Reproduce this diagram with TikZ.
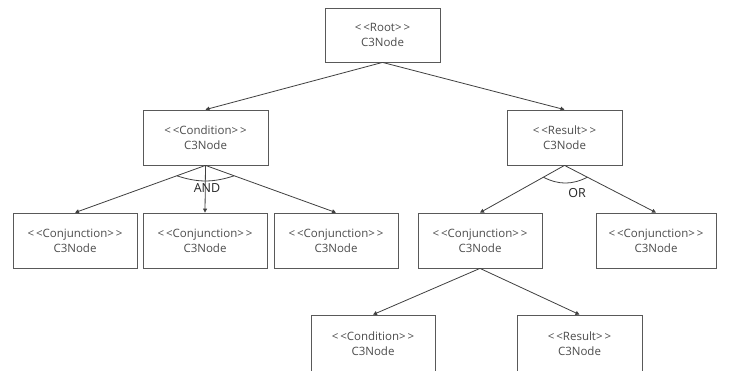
\documentclass[tikz,border=0pt]{standalone}
\usepackage{fontspec}
\setmainfont{Open Sans}
\usepackage{tikz}
\usetikzlibrary{arrows.meta,calc}
\tikzset{
	c3box/.style={draw=black!65, line width=0.8pt, rectangle, minimum height=55pt,
		align=center, font=\fontsize{11.5}{15}\selectfont, text=black!70, inner sep=0pt},
	link/.style={draw=black!75, line width=0.8pt, -{Triangle[length=4pt,width=4pt]}},
	opword/.style={font=\fontsize{12.5}{14}\selectfont, text=black!85, inner sep=0pt}
}

\begin{document}
\begin{tikzpicture}[x=1pt, y=-1pt]
	\useasboundingbox[fill=white] (0,0) rectangle (729,370);

	\node[c3box, minimum width=115pt, minimum height=54pt] (root) at (382.5,35) {<\,<Root>\,>\\C3Node};

	\node[c3box, minimum width=125pt] (cond) at (205.5,137.5) {<\,<Condition>\,>\\C3Node};
	\node[c3box, minimum width=115pt] (res) at (564.5,137.5) {<\,<Result>\,>\\C3Node};

	\node[c3box, minimum width=124pt] (conjA) at (75,240.5) {<\,<Conjunction>\,>\\C3Node};
	\node[c3box, minimum width=124pt] (conjB) at (205,240.5) {<\,<Conjunction>\,>\\C3Node};
	\node[c3box, minimum width=124pt] (conjC) at (336,240.5) {<\,<Conjunction>\,>\\C3Node};
	\node[c3box, minimum width=124pt] (conjD) at (480,240.5) {<\,<Conjunction>\,>\\C3Node};
	\node[c3box, minimum width=120pt] (conjE) at (656,240.5) {<\,<Conjunction>\,>\\C3Node};

	\node[c3box, minimum width=124pt, minimum height=58pt] (cond2) at (373,344) {<\,<Condition>\,>\\C3Node};
	\node[c3box, minimum width=125pt, minimum height=58pt] (res2) at (579.5,344) {<\,<Result>\,>\\C3Node};

	%LINES

	\draw[link] (root.south) -- (cond.north);
	\draw[link] (root.south) -- (res.north);

	\draw[link] (cond.south) -- (conjA.north);
	\draw[link] (cond.south) -- (conjB.north);
	\draw[link] (cond.south) -- (conjC.north);

	\draw[link] (res.south) -- (conjD.north);
	\draw[link] (res.south) -- (conjE.north);

	\draw[link] (conjD.south) -- (cond2.north);
	\draw[link] (conjD.south) -- (res2.north);

	%ARCS

	\draw[black!75, line width=0.8pt] ($(cond.south)!0.22!(conjA.north)$) to[bend right=18] ($(cond.south)!0.22!(conjC.north)$);
	\node[opword] (andlabel) at (207,188) {AND};

	\draw[black!75, line width=0.8pt] ($(res.south)!0.25!(conjD.north)$) to[bend right=27] ($(res.south)!0.25!(conjE.north)$);
	\node[opword] (orlabel) at (577,193) {OR};
\end{tikzpicture}
\end{document}
